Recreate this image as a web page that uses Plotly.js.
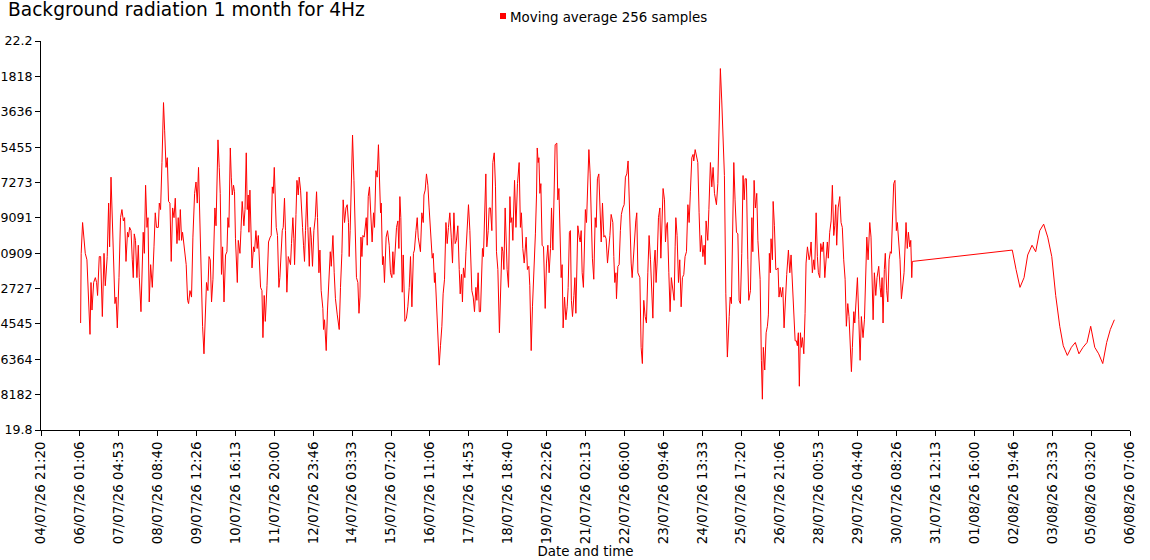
<!DOCTYPE html>
<html>
<head>
<meta charset="utf-8">
<script src="https://cdn.plot.ly/plotly-3.0.1.min.js"></script>
<style>
  html, body { margin: 0; padding: 0; background: #fff; }
  #chart { width: 1150px; height: 560px; }
</style>
</head>
<body>
<div id="chart"></div>
<script>
// Background radiation, 4Hz, moving average of 256 samples.
// Time is given in hours after 04/07/26 21:20.

const START = Date.UTC(2026, 6, 4, 21, 20);

// 06/07 - 09/07
const h1 = [28.3,28.7,29.7,31.6,32.8,33.6,35.0,35.7,36.4,37.6,
  38.8,39.7,40.4,41.6,42.6,43.8,45.0,45.9,47.3,48.3,
  49.0,50.0,51.4,52.8,53.6,54.5,55.7,56.8,57.8,58.8,
  59.7,60.7,61.8,62.5,63.3,64.3,65.2,65.9,66.6,67.5,
  68.5,69.5,70.2,71.4,73.0,73.8,74.7,75.7,76.4,77.3,
  78.3,79.5,80.7,81.6,82.5,83.8,84.5,85.4,86.4,87.5,
  88.3,89.3,90.2,91.1,92.1,93.0,94.0,95.0,95.9,97.1,
  98.0,98.7,99.5,100.4,101.1,102.1,103.7,104.7,105.4,106.4,
  107.5,108.5,109.7,110.7,111.6,112.5,113.5,114.5,115.4,116.4,
  117.3,118.2,119.2,120.0,120.9,121.8,122.8,124.2,125.0,126.4];
const v1 = [20.46,20.89,21.08,20.89,20.85,20.68,20.39,20.71,20.54,20.71,
  20.74,20.71,20.63,20.87,20.87,20.50,20.89,20.69,20.87,21.20,
  20.93,21.36,21.01,20.58,20.62,20.43,20.74,21.11,21.16,21.09,
  21.11,20.84,21.02,20.99,21.05,21.03,20.85,20.74,21.01,20.97,
  20.74,20.94,20.74,20.53,21.02,20.89,21.31,21.05,21.11,20.59,
  20.82,20.68,20.93,21.14,21.05,21.05,21.20,21.16,21.45,21.82,
  21.65,21.42,21.48,21.21,21.20,20.84,21.17,21.11,21.23,20.95,
  21.11,20.97,21.16,20.97,21.02,20.95,20.82,20.60,20.58,20.66,
  20.62,20.99,21.26,21.33,21.20,21.42,21.08,20.62,20.44,20.27,
  20.51,20.71,20.66,20.87,20.85,20.59,20.73,21.17,21.06,21.59];

// 09/07 - 14/07
const h2 = [127.3,128.0,128.9,129.7,130.7,131.8,132.8,133.5,134.2,135.2,
  135.9,136.6,137.5,138.2,138.9,139.4,140.2,140.9,142.1,142.8,
  143.7,144.9,145.7,146.6,147.3,148.0,148.5,149.2,149.9,150.7,
  151.8,152.5,153.5,154.4,155.2,156.1,156.8,157.8,158.5,159.4,
  160.2,161.4,162.5,163.7,164.4,165.2,165.9,166.6,167.3,168.0,
  168.9,169.9,170.6,171.4,172.3,173.0,173.9,174.6,175.6,176.6,
  177.5,178.2,178.9,179.9,180.6,181.1,182.1,182.8,183.7,184.4,
  185.4,186.1,186.8,187.5,188.2,188.9,189.9,190.6,191.6,192.3,
  193.0,193.9,194.9,195.9,196.8,197.5,198.5,199.2,200.1,201.3,
  201.8,202.5,203.0,203.7,204.6,205.6,206.6,207.3,208.5,209.4,
  210.3,211.6,213.0,213.9,214.9,215.8,216.8,217.8,218.7,219.6,
  220.1,220.8,221.8,222.5,223.5,224.4,225.3,226.3,227.1];
const v2 = [21.42,21.26,20.76,20.93,20.59,20.88,20.90,21.11,21.05,21.54,
  21.36,21.25,21.31,21.27,20.98,20.85,20.71,20.97,20.89,21.03,
  21.21,21.06,21.16,21.51,21.16,21.25,21.02,21.28,21.09,20.80,
  20.93,20.90,21.03,20.92,21.00,20.85,20.68,20.66,20.37,20.63,
  20.47,20.69,20.96,20.99,21.00,21.30,21.26,21.42,21.23,21.05,
  21.00,20.68,20.74,20.85,21.03,21.05,21.23,21.03,20.65,20.87,
  20.83,20.82,20.95,21.11,20.98,20.82,21.13,21.34,21.25,21.36,
  21.28,21.11,21.05,20.94,20.84,21.03,21.27,21.05,20.81,21.05,
  20.99,20.81,21.03,21.11,21.27,21.11,20.77,20.91,20.66,20.55,
  20.42,20.48,20.40,20.29,20.54,20.73,20.90,20.81,21.00,20.77,
  20.61,20.51,20.42,20.68,20.89,21.22,21.08,21.17,21.19,21.08,
  20.87,21.03,21.42,21.62,21.34,21.01,20.74,20.71,20.52];

// 14/07 - 18/07
const h3 = [227.8,228.5,229.2,229.9,230.8,231.6,232.3,233.0,233.7,234.6,
  235.6,236.5,237.5,238.2,239.2,240.1,241.0,241.8,242.5,243.0,
  243.9,244.6,245.3,246.5,247.5,248.7,249.6,250.6,251.3,252.0,
  253.0,253.9,254.9,255.6,256.3,257.0,258.0,258.7,259.9,261.0,
  262.0,263.0,263.9,264.9,266.0,266.7,267.8,268.7,269.4,270.1,
  271.0,272.0,273.0,273.5,274.4,275.3,276.3,277.2,278.2,279.4,
  280.1,281.0,281.5,282.2,283.5,284.4,285.3,286.3,287.2,288.2,
  289.2,290.1,291.0,292.0,293.0,293.9,294.9,295.8,296.7,297.7,
  298.7,299.4,300.3,301.0,301.7,302.7,303.5,304.4,305.3,306.3,
  307.0,307.7,308.7,309.6,310.6,311.3,312.2,313.0,313.9,314.6,
  315.3,316.0,317.0,317.7,318.4,319.4,320.1,321.0,322.0,322.7,
  323.7,324.6,325.3,326.3,327.4];
const v3 = [20.62,20.99,20.87,21.00,20.99,21.05,21.11,20.94,21.24,21.30,
  21.11,20.96,21.14,21.05,21.40,21.36,21.56,21.36,21.14,21.20,
  20.82,20.87,20.71,20.99,21.03,20.94,20.77,20.74,20.90,20.76,
  20.97,21.05,21.09,20.92,21.24,21.11,20.65,20.88,20.47,20.49,
  20.56,20.68,20.87,20.56,20.89,20.91,21.03,21.11,20.99,20.94,
  20.90,21.14,21.08,21.25,21.28,21.38,21.31,21.17,20.99,20.86,
  20.89,20.71,20.77,20.62,20.31,20.20,20.32,20.44,20.64,20.73,
  21.08,20.95,21.05,21.14,20.99,20.83,21.14,20.95,20.97,21.06,
  20.79,20.64,20.76,20.59,20.80,20.74,20.90,21.03,21.19,21.03,
  20.81,20.66,20.62,20.53,20.68,20.60,20.77,20.53,20.53,20.73,
  20.92,20.87,21.30,21.38,20.93,21.03,21.17,21.17,21.03,21.45,
  21.51,21.30,20.90,20.79,20.40];

// 18/07 - 22/07
const h4 = [329.2,329.9,330.6,331.5,332.2,332.9,333.9,334.9,335.6,336.3,
  337.0,338.2,339.2,340.3,341.5,342.4,343.1,344.1,345.1,345.8,
  346.5,347.4,348.4,349.1,350.1,351.0,352.2,353.1,353.9,354.4,
  355.1,355.6,356.3,357.0,357.9,358.9,360.1,361.0,362.0,362.9,
  363.9,364.6,365.6,366.3,367.2,368.4,369.1,369.9,370.8,371.5,
  372.2,372.9,373.9,374.9,375.8,376.5,377.4,378.1,378.8,379.6,
  380.6,381.3,382.0,382.7,383.4,384.4,385.1,385.8,386.5,387.4,
  388.1,388.8,389.6,390.3,391.3,392.2,393.1,393.8,394.8,395.8,
  396.5,397.4,398.4,399.3,400.1,401.0,402.0,402.7,403.6,404.6,
  405.6,406.3,407.2,408.4,409.1,409.8,410.6,411.0,412.0,412.9,
  413.8,414.5,415.5,416.5,417.4,418.4,419.3,420.0,420.8,421.5,
  422.2,422.9,423.8,424.8,425.5,426.3];
const v4 = [20.93,20.90,20.79,21.17,20.97,20.79,20.68,21.24,21.08,21.11,
  20.97,21.34,21.05,21.32,21.45,21.05,21.14,20.92,20.83,20.89,
  20.99,20.79,20.81,20.69,20.29,20.56,20.77,21.01,21.25,21.54,
  21.45,21.48,21.26,21.32,20.94,20.93,20.55,20.83,20.94,20.77,
  20.92,21.17,20.91,21.22,21.56,21.57,21.22,21.29,20.91,20.74,
  20.82,20.43,20.62,20.48,20.56,20.68,21.02,21.03,20.60,20.50,
  20.63,20.74,20.52,20.83,21.06,20.99,20.96,21.03,20.77,20.68,
  20.97,21.16,21.08,21.30,21.53,21.38,21.08,20.86,20.73,21.11,
  21.05,21.35,21.38,21.16,20.96,21.20,20.99,21.00,20.98,20.83,
  20.91,21.00,21.13,21.08,20.87,20.71,20.77,20.61,20.81,20.82,
  21.03,21.13,21.17,21.19,21.36,21.38,21.46,21.24,21.11,20.83,
  20.74,20.85,20.91,21.09,21.14,20.77];

// 22/07 - 26/07
const h5 = [427.7,428.6,429.5,430.5,431.5,432.4,433.4,434.3,435.3,436.0,
  437.0,437.9,438.6,439.3,440.0,441.0,442.0,442.7,443.4,444.3,
  445.3,446.0,446.7,447.4,448.4,449.3,450.2,451.2,452.2,452.9,
  453.4,454.3,455.3,456.2,457.2,458.1,459.1,460.0,461.0,462.0,
  462.9,463.8,464.8,465.7,466.2,467.2,468.1,469.1,470.0,470.9,
  471.7,472.7,473.6,474.3,475.0,476.2,477.0,478.1,479.1,480.0,
  481.0,482.4,483.4,484.3,485.2,486.2,487.2,488.1,489.1,490.2,
  491.5,492.2,493.1,494.1,494.8,495.7,496.7,497.7,498.6,499.5,
  500.5,501.4,502.2,502.9,503.8,504.8,505.5,506.7,507.7,508.4,
  509.3,510.2,511.2,512.0,512.9,513.6,514.5,515.2,515.9,516.9,
  517.9,518.8,519.5,520.2,520.9,521.4,522.4,522.9,523.8,524.8];
const v5 = [20.74,20.31,20.21,20.60,20.50,20.46,20.77,21.00,20.85,20.64,
  20.49,20.83,20.91,20.71,20.83,21.11,21.17,20.86,21.11,21.29,
  21.22,20.96,21.06,21.08,20.77,20.53,20.74,20.68,20.60,20.93,
  21.11,21.00,20.71,20.85,20.56,20.74,20.76,20.87,20.90,21.19,
  21.08,21.27,21.48,21.50,21.46,21.53,21.48,21.45,21.14,20.90,
  21.00,20.87,20.94,20.82,21.09,20.97,21.16,21.45,21.30,21.42,
  21.26,21.19,21.32,21.69,22.03,21.83,21.63,21.37,20.64,20.25,
  20.50,20.62,20.58,21.14,21.45,21.22,21.02,21.01,20.60,20.58,
  20.89,21.37,21.22,21.35,21.35,20.85,20.60,20.66,21.11,20.90,
  21.34,21.17,21.26,20.97,20.83,20.73,20.23,19.99,20.31,20.17,
  20.40,20.44,20.51,20.89,20.77,20.98,20.85,21.21,21.06,20.79];

// 26/07 - 30/07
const h6 = [525.5,526.4,527.1,527.9,528.8,529.8,530.7,531.6,532.6,533.8,
  534.8,535.7,536.6,537.6,538.6,539.5,540.2,540.9,541.6,542.4,
  543.1,543.8,544.8,545.7,546.4,547.4,548.6,549.3,550.0,550.9,
  551.9,552.6,553.6,554.5,555.2,556.2,556.9,557.8,558.8,559.8,
  560.7,561.6,562.3,563.3,564.3,565.2,566.2,566.9,567.6,568.3,
  569.3,570.5,571.4,572.3,573.3,574.3,575.2,576.2,577.1,578.1,
  578.8,579.5,580.5,581.2,582.1,583.1,584.1,585.0,585.9,587.1,
  588.1,589.1,589.8,590.7,591.9,592.8,593.6,594.3,595.2,596.2,
  597.1,598.3,599.3,600.0,600.7,601.4,602.3,603.0,604.0,604.8,
  605.7,606.6,607.3,608.3,609.0,609.9,610.9,611.6,612.6,613.5,
  614.5,615.5,616.4,617.8,618.7,619.5,620.5,621.2,621.9,622.3];
const v6 = [20.79,20.80,20.62,20.68,20.62,20.68,20.43,20.64,20.76,20.91,
  20.77,20.88,20.68,20.48,20.35,20.35,20.32,20.40,20.07,20.40,
  20.31,20.37,20.27,20.52,20.83,20.93,20.85,20.88,20.96,20.77,
  20.85,20.79,21.14,20.87,20.77,20.74,20.95,20.90,20.96,20.74,
  20.89,20.96,20.86,21.02,21.09,21.31,21.00,21.06,21.19,20.94,
  21.17,21.24,21.08,21.05,20.85,20.73,20.44,20.58,20.50,20.23,
  20.16,20.31,20.53,20.46,20.64,20.74,20.48,20.23,20.50,20.37,
  20.48,20.80,20.99,20.85,21.08,20.99,20.77,20.48,20.77,20.63,
  20.74,20.81,20.68,20.62,20.74,20.46,20.79,20.89,20.66,20.59,
  20.85,20.90,20.89,21.11,21.32,21.34,21.03,21.08,20.95,20.85,
  20.61,20.68,20.77,21.08,20.92,21.02,20.93,20.97,20.74,20.84];

// 02/08 - 05/08 (after the gap)
const h7 = [693.7,696.4,699.2,702.1,704.7,707.8,710.4,713.3,716.1,719.0,
  721.9,724.7,727.6,730.1,733.0,735.9,738.7,741.3,744.2,747.1,
  749.7,752.6,755.4,758.3,761.1,763.7,766.6];
const v7 = [20.91,20.79,20.68,20.74,20.88,20.94,20.90,21.03,21.07,20.99,
  20.87,20.63,20.44,20.32,20.26,20.31,20.34,20.27,20.31,20.34,
  20.44,20.31,20.27,20.21,20.34,20.42,20.48];

const xTickLabels = ["04/07/26 21:20","06/07/26 01:06","07/07/26 04:53","08/07/26 08:40",
  "09/07/26 12:26","10/07/26 16:13","11/07/26 20:00","12/07/26 23:46","14/07/26 03:33",
  "15/07/26 07:20","16/07/26 11:06","17/07/26 14:53","18/07/26 18:40","19/07/26 22:26",
  "21/07/26 02:13","22/07/26 06:00","23/07/26 09:46","24/07/26 13:33","25/07/26 17:20",
  "26/07/26 21:06","28/07/26 00:53","29/07/26 04:40","30/07/26 08:26","31/07/26 12:13",
  "01/08/26 16:00","02/08/26 19:46","03/08/26 23:33","05/08/26 03:20","06/08/26 07:06"];

// y ticks; the long labels are cut off at the left edge in the original
const yTickVals = [22.2,21.9818,21.7636,21.5455,21.3273,21.1091,20.8909,20.6727,20.4545,20.2364,20.0182,19.8];
const yTickText = ["22.2","1818","3636","5455","7273","9091","0909","2727","4545","6364","8182","19.8"];

const SERIES_NAME = "Moving average 256 samples";

/* ---------- helpers ---------- */

function stamp(h) {
  return new Date(START + h * 3600000).toISOString().slice(0, 19).replace("T", " ");
}

function labelToDate(s) {
  const [d, t] = s.split(" ");
  const [dd, mm, yy] = d.split("/");
  return `20${yy}-${mm}-${dd} ${t}`;
}

const hours = [].concat(h1, h2, h3, h4, h5, h6, h7);
const values = [].concat(v1, v2, v3, v4, v5, v6, v7);

const FONT = "DejaVu Sans, Verdana, sans-serif";
const FS = 13.4;
const W = 1150, H = 560;
const M = { l: 41, r: 20, t: 41, b: 130 };
const pw = W - M.l - M.r, ph = H - M.t - M.b;

const trace = {
  type: "scatter",
  mode: "lines",
  name: SERIES_NAME,
  x: hours.map(stamp),
  y: values,
  line: { color: "#ff0000", width: 1 },
  showlegend: false,
  hoverinfo: "x+y"
};

const layout = {
  width: W,
  height: H,
  margin: M,
  paper_bgcolor: "#ffffff",
  plot_bgcolor: "#ffffff",
  font: { family: FONT, size: FS, color: "#000000" },
  title: {
    text: "Background radiation 1 month for 4Hz",
    font: { family: FONT, size: 18.6, color: "#000000" },
    x: 8 / W, xref: "container", xanchor: "left",
    y: 1 - 9.5 / H, yref: "container", yanchor: "middle",
    pad: { t: 0, l: 0, b: 0, r: 0 }
  },
  xaxis: {
    type: "date",
    range: [labelToDate(xTickLabels[0]), labelToDate(xTickLabels[xTickLabels.length - 1])],
    tickmode: "array",
    tickvals: xTickLabels.map(labelToDate),
    ticktext: xTickLabels,
    tickangle: -90,
    ticks: "outside", ticklen: 5, tickcolor: "#000", tickwidth: 1,
    showline: true, linecolor: "#000", linewidth: 1,
    showgrid: false, zeroline: false,
    tickfont: { family: FONT, size: FS },
    automargin: false,
    title: { text: "Date and time", font: { family: FONT, size: FS }, standoff: 2 }
  },
  yaxis: {
    range: [19.8, 22.2],
    tickmode: "array",
    tickvals: yTickVals,
    ticktext: yTickText,
    ticks: "outside", ticklen: 5, tickcolor: "#000", tickwidth: 1,
    showline: true, linecolor: "#000", linewidth: 1,
    showgrid: false, zeroline: false,
    tickfont: { family: FONT, size: 12.6 },
    ticklabelstandoff: 0,
    automargin: false
  },
  // legend drawn by hand: small red square and label above the plot
  shapes: [{
    type: "rect", xref: "paper", yref: "paper",
    x0: (500 - M.l) / pw, x1: (506 - M.l) / pw,
    y0: (M.t + ph - 19) / ph, y1: (M.t + ph - 13) / ph,
    fillcolor: "#ff0000", line: { width: 0 }
  }],
  annotations: [{
    text: SERIES_NAME,
    xref: "paper", yref: "paper",
    x: (508 - M.l) / pw, y: (M.t + ph - 17) / ph,
    xanchor: "left", yanchor: "middle",
    showarrow: false,
    font: { family: FONT, size: FS, color: "#000" }
  }],
  showlegend: false
};

Plotly.newPlot("chart", [trace], layout, { displayModeBar: false, staticPlot: true });
</script>
</body>
</html>
